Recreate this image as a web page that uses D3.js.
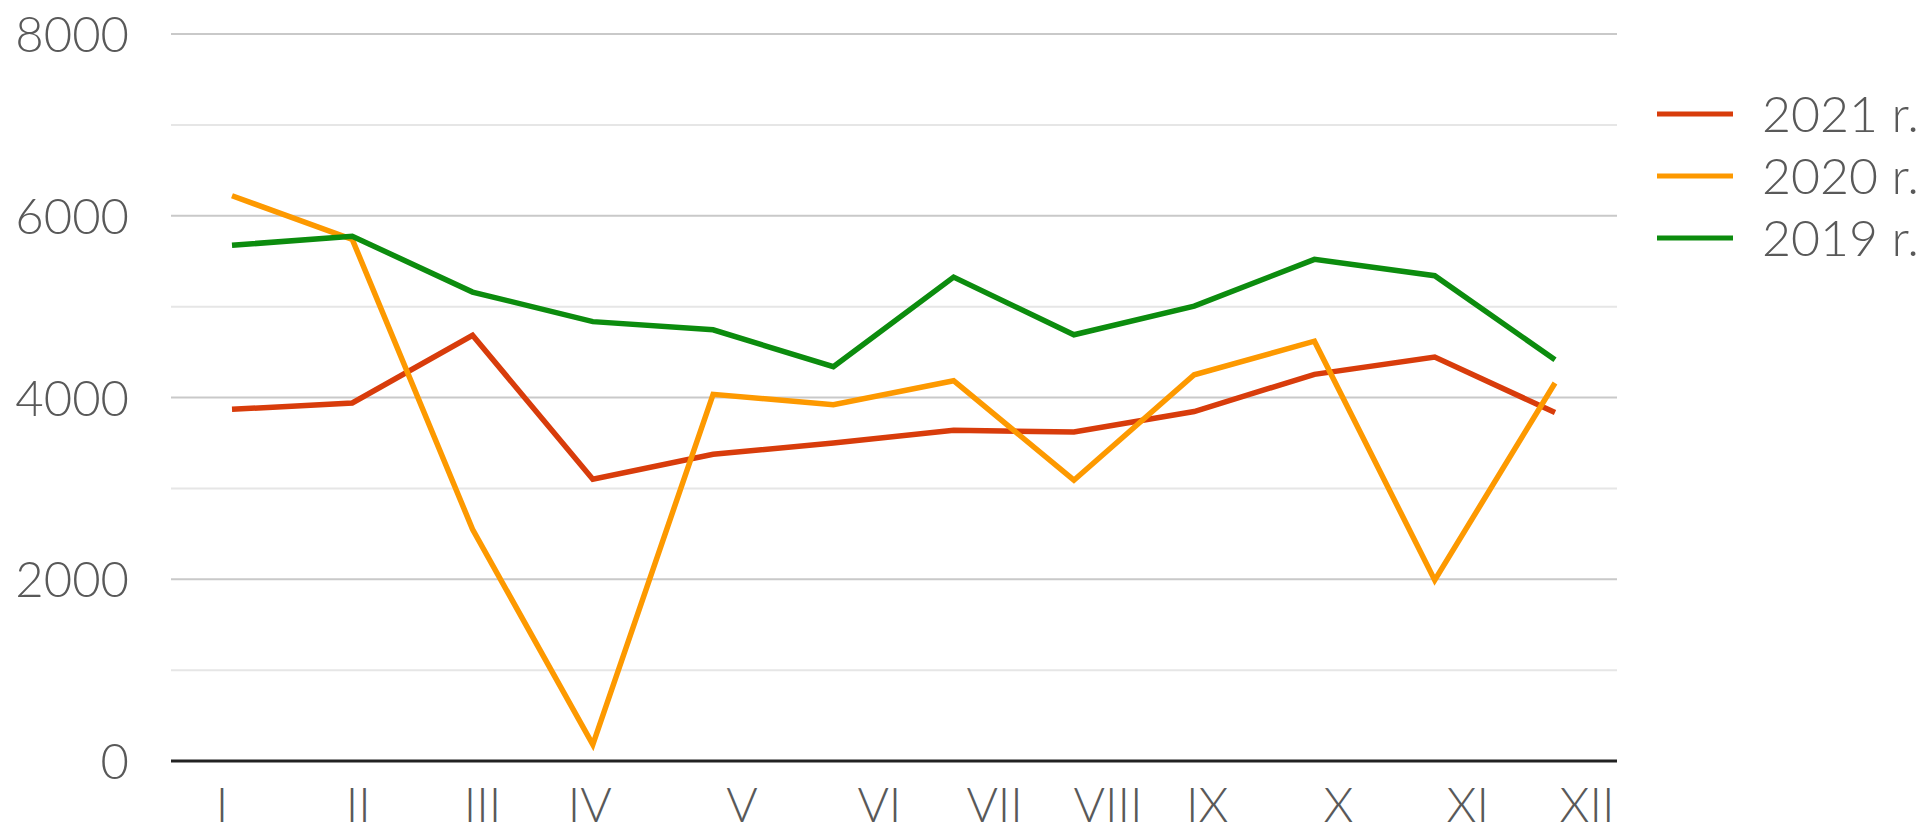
<!DOCTYPE html>
<html>
<head>
<meta charset="utf-8">
<script src="https://cdn.jsdelivr.net/npm/d3@7"></script>
<style>
  body { margin: 0; background: #fff; }
  text { font-family: Lato, "Open Sans", sans-serif; font-weight: 300; fill: #595959; }
</style>
</head>
<body>
<svg id="chart" width="1917" height="827"></svg>
<script>
// months on the x axis
var months = ["I", "II", "III", "IV", "V", "VI", "VII", "VIII", "IX", "X", "XI", "XII"]

// values per year
var y2021 = [3870, 3940, 4685, 3100, 3375, 3500, 3640, 3620, 3845, 4255, 4445, 3835]
var y2020 = [6220, 5740, 2550, 180, 4035, 3920, 4185, 3090, 4250, 4620, 1990, 4160]
var y2019 = [5675, 5775, 5160, 4835, 4745, 4340, 5325, 4690, 5005, 5520, 5340, 4415]

var yLabels = [0, 2000, 4000, 6000, 8000]
var yGrid = [1000, 2000, 3000, 4000, 5000, 6000, 7000, 8000]

var seriesNames = ["2021 r.", "2020 r.", "2019 r."]
var colors = {"2021 r.": "#d83c0b", "2020 r.": "#fd9900", "2019 r.": "#0c8c0e"}

var series = [
  {name: "2021 r.", values: y2021},
  {name: "2020 r.", values: y2020},
  {name: "2019 r.", values: y2019}
]

// the month labels in the original sit a bit off the data points
var labelNudge = [-10, 6, 10, -3, 29, 46, 41, 34, 13, 24, 33, 32]

var svg = d3.select("#chart")

var plotLeft = 171, plotRight = 1617
var xScale = d3.scalePoint()
  .domain(months)
  .range([232, 1555])

var yScale = d3.scaleLinear()
  .domain([0, 8000])
  .range([761, 34])

// grid lines
svg.append("g")
  .selectAll("line")
  .data(yGrid)
  .enter()
  .append("line")
  .attr("x1", plotLeft)
  .attr("x2", plotRight)
  .attr("y1", d => yScale(d))
  .attr("y2", d => yScale(d))
  .attr("stroke", d => d % 2000 == 0 ? "#c9c9c9" : "#e6e6e6")
  .attr("stroke-width", 2)

// zero line
svg.append("line")
  .attr("x1", plotLeft)
  .attr("x2", plotRight)
  .attr("y1", yScale(0))
  .attr("y2", yScale(0))
  .attr("stroke", "#222")
  .attr("stroke-width", 3)

// y axis labels
var yAxis = d3.axisLeft(yScale)
  .tickValues(yLabels)
  .tickFormat(d3.format("d"))
  .tickSize(0)
  .tickPadding(0)
var yg = svg.append("g")
  .attr("transform", "translate(129,0)")
  .call(yAxis)
yg.select(".domain").remove()
yg.selectAll("text")
  .attr("dy", "0.36em")
  .style("font-size", "49px")
  .style("font-family", "Lato, 'Open Sans', sans-serif")
  .attr("fill", "#595959")

// x axis labels
var xAxis = d3.axisBottom(xScale).tickSize(0).tickPadding(0)
var xg = svg.append("g")
  .attr("transform", "translate(0,787)")
  .call(xAxis)
xg.select(".domain").remove()
xg.selectAll(".tick")
  .attr("transform", (d, i) => "translate(" + (xScale(d) + labelNudge[i]) + ",0)")
xg.selectAll("text")
  .attr("dy", "0.72em")
  .style("font-size", "48px")
  .style("font-family", "Lato, 'Open Sans', sans-serif")
  .attr("fill", "#595959")

// lines
var drawLine = d3.line()
  .x((d, i) => xScale(months[i]))
  .y(d => yScale(d))

svg.append("g")
  .selectAll("path")
  .data(series)
  .enter()
  .append("path")
  .attr("d", d => drawLine(d.values))
  .attr("fill", "none")
  .attr("stroke", d => colors[d.name])
  .attr("stroke-width", 5.5)
  .attr("stroke-linejoin", "miter")

// legend
var legend = svg.append("g")
  .selectAll("g")
  .data(seriesNames)
  .enter()
  .append("g")
  .attr("transform", (d, i) => "translate(1657," + (114 + i * 62) + ")")

legend.append("line")
  .attr("x1", 0)
  .attr("x2", 76)
  .attr("stroke", d => colors[d])
  .attr("stroke-width", 5)

legend.append("text")
  .attr("x", 105)
  .attr("dy", "0.36em")
  .style("font-size", "50px")
  .text(d => d)
</script>
</body>
</html>
